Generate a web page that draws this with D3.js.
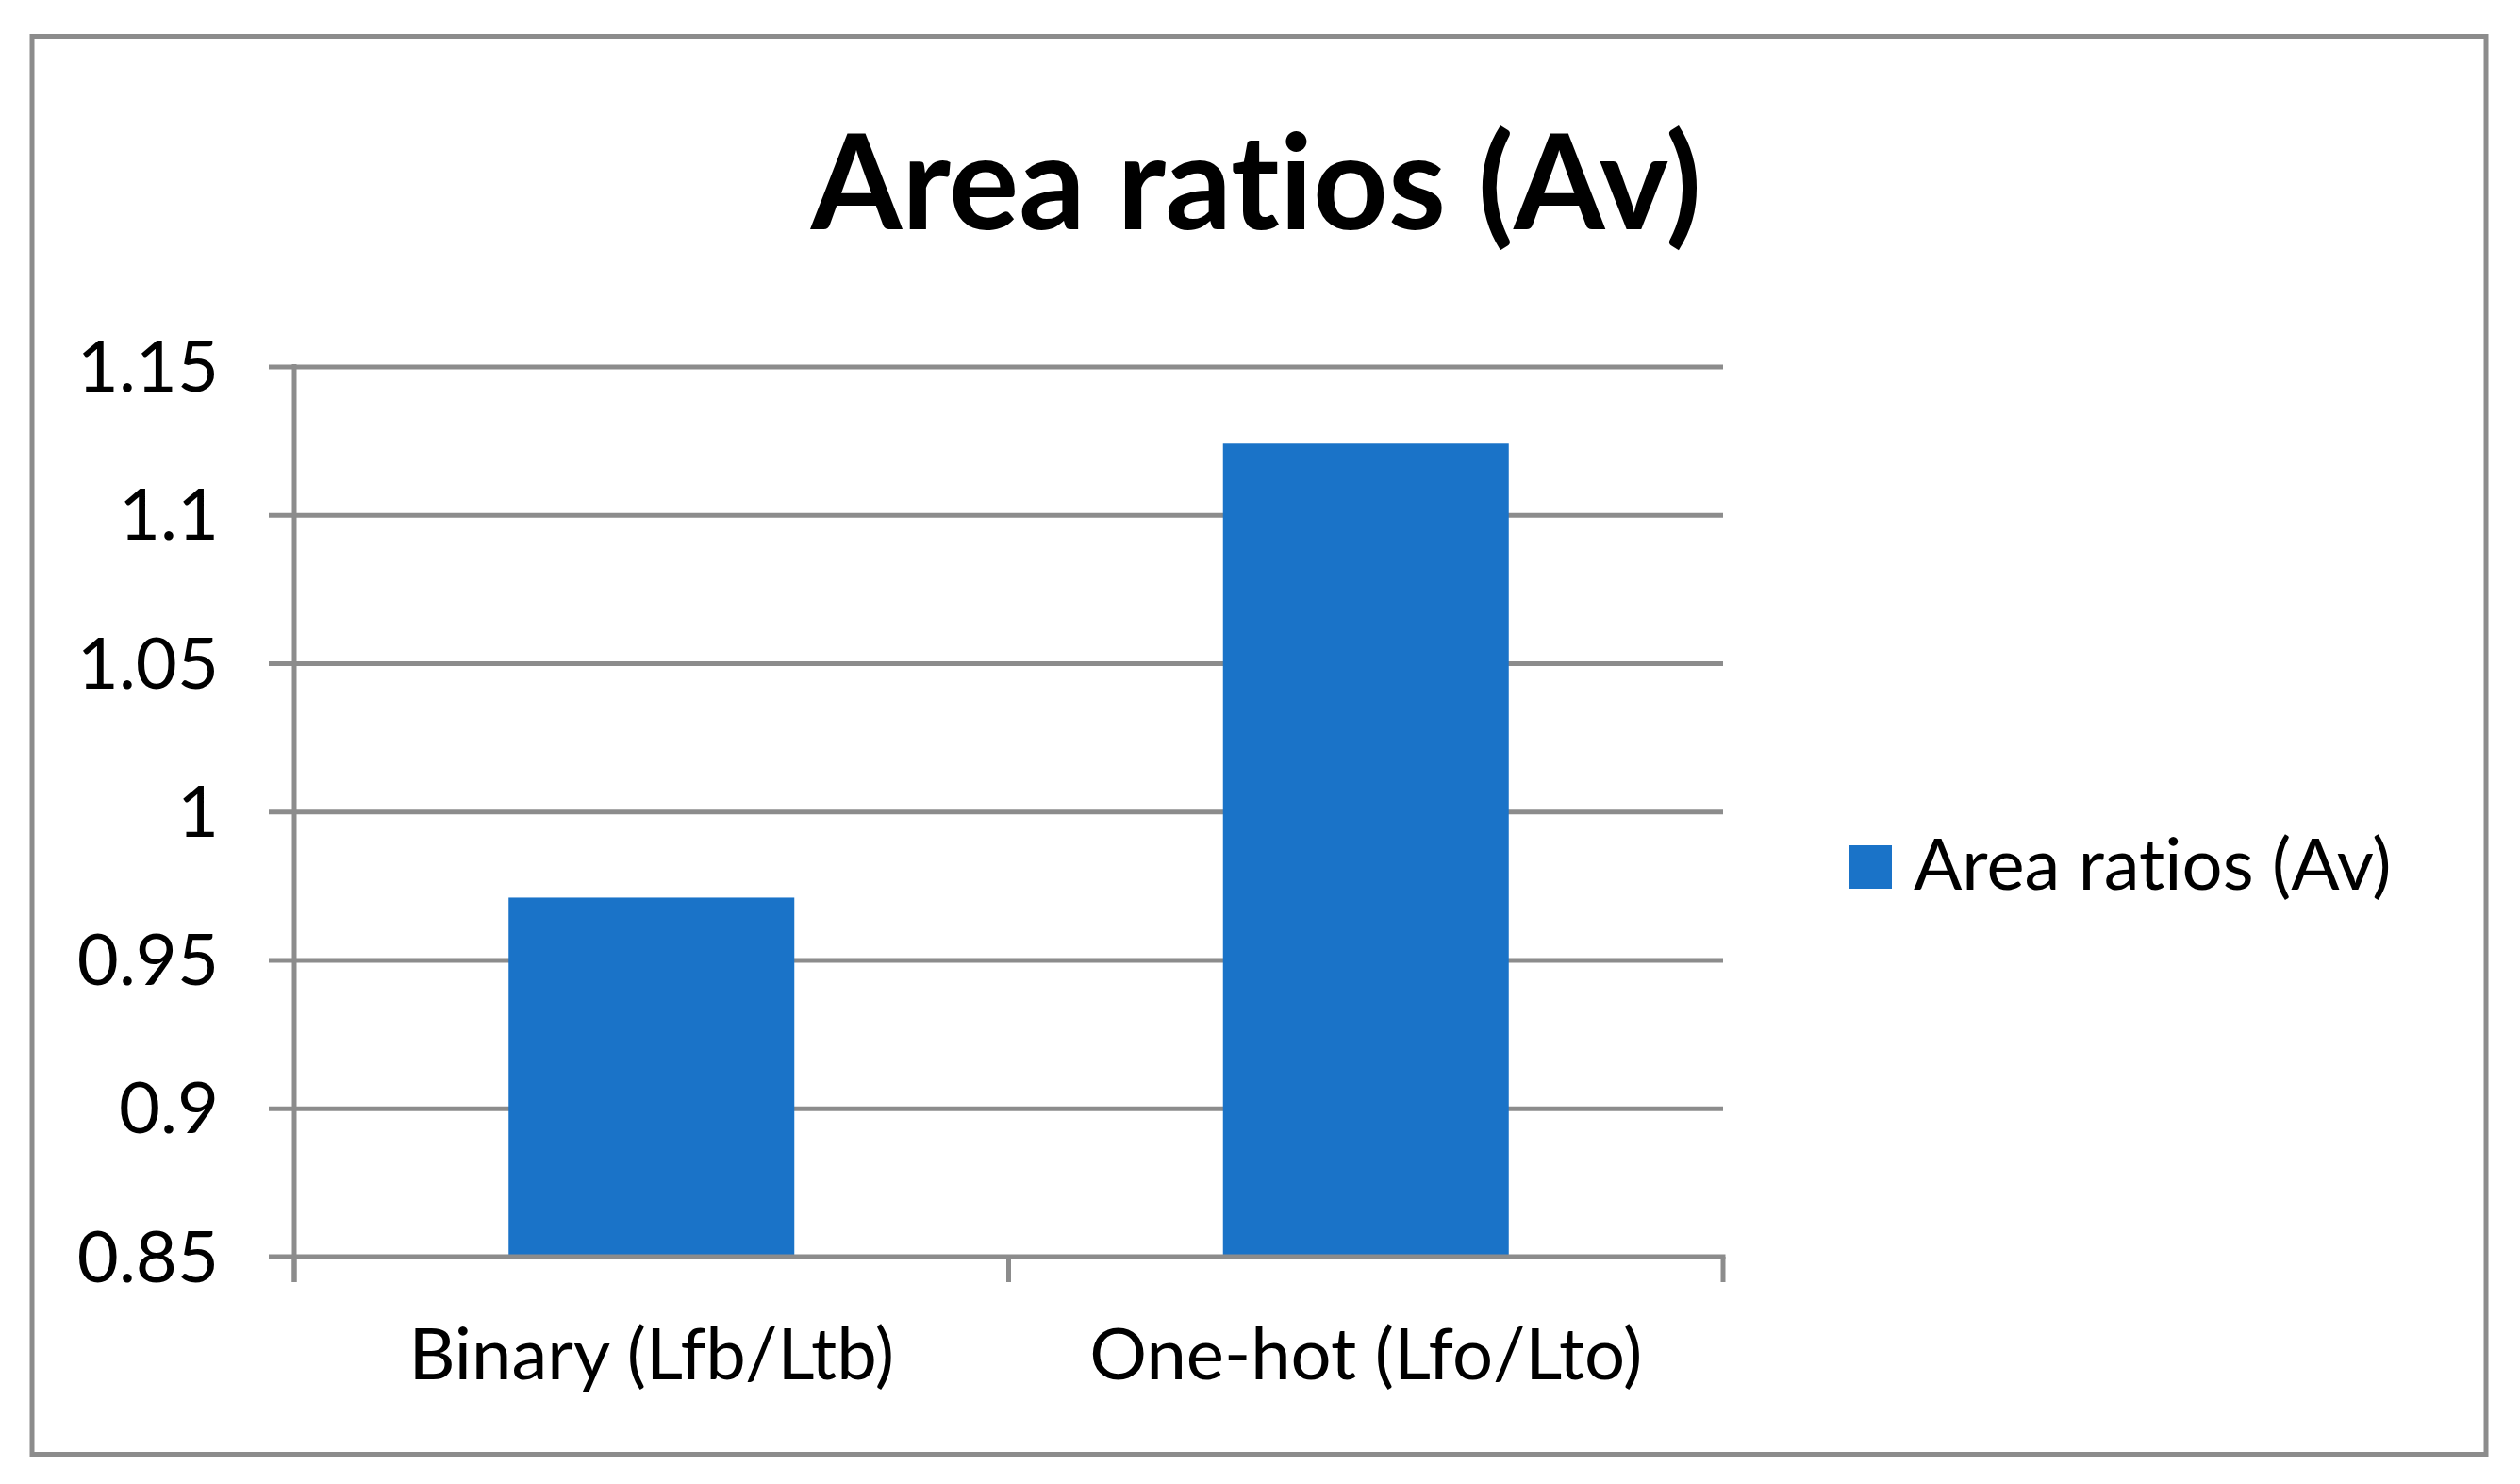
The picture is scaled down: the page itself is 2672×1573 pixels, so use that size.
<!DOCTYPE html>
<html>
<head>
<meta charset="utf-8">
<script src="https://cdn.jsdelivr.net/npm/d3@7"></script>
<style>
  body { margin: 0; background: #fff; }
  text { font-family: Lato, "Open Sans", sans-serif; fill: #000; font-variant-ligatures: none; }
</style>
</head>
<body>
<div id="chart"></div>
<script>
// data
var categories = ["Binary (Lfb/Ltb)", "One-hot (Lfo/Lto)"];
var values = [0.971, 1.124];
var yTicks = [0.85, 0.9, 0.95, 1, 1.05, 1.1, 1.15];
var seriesName = "Area ratios (Av)";
var chartTitle = "Area ratios (Av)";

var W = 2672, H = 1573;
var gridColor = "#8c8c8c", barColor = "#1a73c8";

var svg = d3.select("#chart").append("svg").attr("width", W).attr("height", H);

// outer frame
svg.append("rect").attr("x", 34).attr("y", 38.5).attr("width", 2602).attr("height", 1503)
    .attr("fill", "none").attr("stroke", gridColor).attr("stroke-width", 5);

var plotL = 312, plotR = 1827, plotT = 388.5, plotB = 1332;

var x = d3.scaleBand().domain(categories).range([plotL, plotR]).paddingInner(0.6).paddingOuter(0.3);
var y = d3.scaleLinear().domain([0.85, 1.15]).range([plotB, plotT]);

// gridlines + left tick stubs
svg.append("g")
    .attr("transform", `translate(${plotR},0)`)
    .call(d3.axisLeft(y).tickValues(yTicks).tickSize(plotR - plotL + 27).tickFormat(""))
    .call(g => g.select(".domain").remove())
    .call(g => g.selectAll("line").attr("stroke", gridColor).attr("stroke-width", 5));

// y labels
svg.append("g").selectAll("text").data(yTicks).enter().append("text")
    .attr("x", 232).attr("y", d => y(d)).attr("dy", "0.35em")
    .attr("text-anchor", "end").attr("font-size", 76)
    .text(d => d3.format("~g")(d));

// y axis line
svg.append("line").attr("x1", plotL).attr("x2", plotL).attr("y1", plotT - 2.5).attr("y2", plotB + 27)
    .attr("stroke", gridColor).attr("stroke-width", 5);

// bars
svg.selectAll(".bar").data(values).enter().append("rect").attr("class", "bar")
    .attr("x", (d, i) => x(categories[i])).attr("width", x.bandwidth())
    .attr("y", d => y(d)).attr("height", d => y(0.85) - y(d))
    .attr("fill", barColor);

// x axis: baseline and category boundary ticks
svg.append("line").attr("x1", plotL - 27).attr("x2", plotR + 2.5).attr("y1", plotB).attr("y2", plotB)
    .attr("stroke", gridColor).attr("stroke-width", 5);
var step = x.step();
var bounds = [plotL].concat(categories.map((c, i) => plotL + step * (i + 1)));
svg.append("g").selectAll("line").data(bounds).enter().append("line")
    .attr("x1", d => d).attr("x2", d => d).attr("y1", plotB).attr("y2", plotB + 27)
    .attr("stroke", gridColor).attr("stroke-width", 5);

svg.append("g").selectAll("text").data(categories).enter().append("text")
    .attr("x", d => x(d) + x.bandwidth() / 2).attr("y", 1462)
    .attr("text-anchor", "middle").attr("font-size", 76)
    .text(d => d);

// title
svg.append("text").attr("x", 1332).attr("y", 243).attr("text-anchor", "middle")
    .attr("font-size", 139).attr("font-weight", "bold").text(chartTitle);

// legend
svg.append("rect").attr("x", 1960).attr("y", 896).attr("width", 46).attr("height", 46).attr("fill", barColor);
svg.append("text").attr("x", 2029).attr("y", 943).attr("font-size", 76).text(seriesName);
</script>
</body>
</html>
